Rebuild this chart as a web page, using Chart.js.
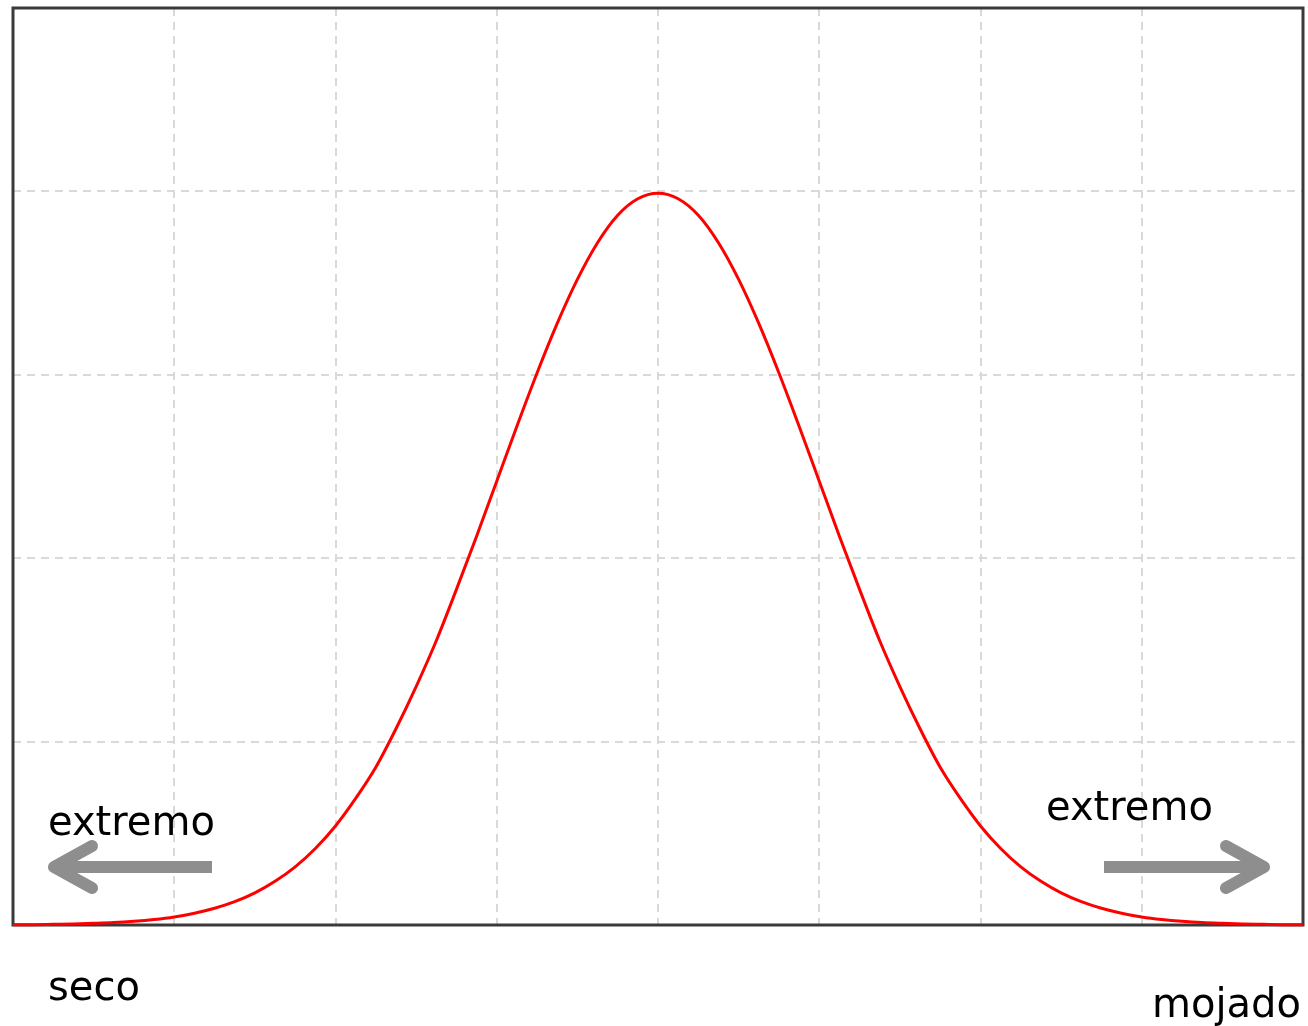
<!DOCTYPE html>
<html>
<head>
<meta charset="utf-8">
<script src="https://cdn.jsdelivr.net/npm/chart.js@4"></script>
<style>
  body { margin: 0; background: #fff; }
  #wrap { position: relative; width: 1308px; height: 1026px; }
  .lbl { position: absolute; font-family: "DejaVu Sans", sans-serif; font-size: 40px; line-height: 40px; color: #000; white-space: nowrap; }
</style>
</head>
<body>
<div id="wrap">
  <canvas id="grafico" width="1308" height="1026"></canvas>
  <div class="lbl" style="left:48px; top:801px;">extremo</div>
  <div class="lbl" style="left:1046px; top:786px;">extremo</div>
  <div class="lbl" style="left:48px; top:966px;">seco</div>
  <div class="lbl" style="left:1152px; top:983px;">mojado</div>
</div>
<script>
// valores (curva en campana)
const valoresX = [-4, -3.875, -3.75, -3.625, -3.5, -3.375, -3.25, -3.125, -3, -2.875, -2.75, -2.625, -2.5, -2.375, -2.25, -2.125,
                  -2, -1.875, -1.75, -1.625, -1.5, -1.375, -1.25, -1.125, -1, -0.875, -0.75, -0.625, -0.5, -0.375, -0.25, -0.125,
                  0, 0.125, 0.25, 0.375, 0.5, 0.625, 0.75, 0.875, 1, 1.125, 1.25, 1.375, 1.5, 1.625, 1.75, 1.875,
                  2, 2.125, 2.25, 2.375, 2.5, 2.625, 2.75, 2.875, 3, 3.125, 3.25, 3.375, 3.5, 3.625, 3.75, 3.875, 4];
const valoresY = [0.0001, 0.0002, 0.0004, 0.0006, 0.0009, 0.0013, 0.0020, 0.0030, 0.0044, 0.0064, 0.0091, 0.0127, 0.0175, 0.0238, 0.0317, 0.0417,
                  0.054, 0.069, 0.086, 0.107, 0.130, 0.155, 0.183, 0.212, 0.242, 0.272, 0.301, 0.328, 0.352, 0.372, 0.387, 0.396,
                  0.399, 0.396, 0.387, 0.372, 0.352, 0.328, 0.301, 0.272, 0.242, 0.212, 0.183, 0.155, 0.130, 0.107, 0.086, 0.069,
                  0.054, 0.0417, 0.0317, 0.0238, 0.0175, 0.0127, 0.0091, 0.0064, 0.0044, 0.0030, 0.0020, 0.0013, 0.0009, 0.0006, 0.0004, 0.0002, 0.0001];

document.addEventListener("DOMContentLoaded", () => {
    const ctx = document.getElementById("grafico").getContext("2d");

    const marco = {
        id: "marco",
        beforeDatasetsDraw(chart) {
            const { ctx, chartArea: a } = chart;
            ctx.save();
            ctx.strokeStyle = "#3a3a3a";
            ctx.lineWidth = 3;
            ctx.strokeRect(a.left, a.top, a.right - a.left, a.bottom - a.top);
            ctx.restore();
        }
    };

    const flecha = (c, x0, x1, y) => {
        const dir = x1 > x0 ? 1 : -1;
        c.lineCap = "butt";
        c.beginPath();
        c.moveTo(x0, y);
        c.lineTo(x1 - dir * 8, y);
        c.stroke();
        c.lineCap = "round";
        c.lineJoin = "round";
        c.beginPath();
        c.moveTo(x1 - dir * 38, y - 21);
        c.lineTo(x1, y);
        c.lineTo(x1 - dir * 38, y + 21);
        c.stroke();
    };

    const flechas = {
        id: "flechas",
        afterDraw(chart) {
            const c = chart.ctx;
            c.save();
            c.strokeStyle = "#8e8e8e";
            c.lineWidth = 12;
            flecha(c, 212, 54, 867);
            flecha(c, 1104, 1264, 867);
            c.restore();
        }
    };

    const grid = {
        color: "#d9d9d9",
        lineWidth: 2,
        drawTicks: false
    };

    new Chart(ctx, {
        type: "line",
        data: {
            datasets: [{
                data: valoresX.map((x, i) => ({ x: x, y: valoresY[i] })),
                borderColor: "#ff0000",
                borderWidth: 3,
                pointRadius: 0,
                cubicInterpolationMode: "monotone",
                fill: false,
                clip: false
            }]
        },
        options: {
            responsive: false,
            devicePixelRatio: 1,
            animation: false,
            layout: { padding: { left: 13, top: 8, right: 5, bottom: 101 } },
            plugins: { legend: { display: false }, tooltip: { enabled: false } },
            scales: {
                x: {
                    type: "linear",
                    min: -4, max: 4,
                    ticks: { display: false, stepSize: 1 },
                    grid: grid,
                    border: { display: false, dash: [8, 6] }
                },
                y: {
                    min: 0, max: 0.5,
                    ticks: { display: false, stepSize: 0.1 },
                    grid: grid,
                    border: { display: false, dash: [8, 6] }
                }
            }
        },
        plugins: [marco, flechas]
    });
});
</script>
</body>
</html>
